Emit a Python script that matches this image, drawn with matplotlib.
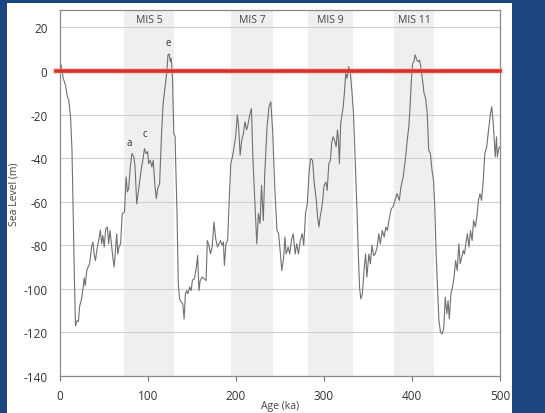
import matplotlib
matplotlib.use("Agg")
import matplotlib.pyplot as plt
from matplotlib.patches import Rectangle

# Sea level reconstruction, last 500 kyr
age = [
    0, 1.1, 3.7, 6.2, 8.4, 9.9, 12, 13.6,
    15, 16.5, 17.6, 19.4, 20.9, 22.3, 24.5, 26.4,
    27.5, 28.6, 30.4, 31.9, 33.7, 35.9, 37.4, 38.8,
    40.3, 42.1, 44, 45.8, 47.3, 48.7, 50.2, 52,
    53.8, 55.3, 56.8, 58.6, 60, 61.5, 63, 64.5,
    65.6, 67, 68.9, 70.7, 73.3, 75.1, 76.6, 78,
    79.9, 81.7, 83.9, 85.3, 87.2, 89.7, 92.7, 94.1,
    96, 97.8, 99.6, 100.7, 102.6, 104.4, 105.9, 108,
    109.5, 111, 113.2, 115.4, 117.2, 119.8, 121.2, 122.7,
    124.2, 125.3, 126.4, 127.8, 129.3, 130.8, 131.5, 133,
    134.4, 135.9, 137.7, 139.6, 141, 142.5, 144, 145.4,
    147.3, 149, 150.5, 152.7, 155, 156.4, 157.9, 159.3,
    161.5, 163.7, 166, 167.4, 169.2, 171, 172.9, 175,
    176.9, 179, 180.6, 182.4, 184.2, 185.7, 186.8, 188.6,
    190.5, 192.3, 194.1, 196, 197.8, 199.6, 201.5, 203,
    204.7, 206.5, 208.4, 210.2, 212, 213.5, 215.6, 217.5,
    219.3, 221, 223.6, 225.5, 227.3, 229, 231, 232.7,
    235.3, 237.5, 239.6, 241.8, 244, 246.5, 248.4, 250.5,
    252, 254.2, 255.6, 257, 259.3, 261, 263, 265,
    267.3, 269, 271, 273, 275.3, 277, 279, 281,
    283, 284.7, 287, 289, 291.3, 292.7, 294.2, 295.6,
    297, 298.5, 300, 302.2, 303.6, 305.5, 307.3, 308.7,
    310.2, 312, 313.8, 315.3, 316.4, 317.5, 319, 320.4,
    321.8, 323.3, 324.7, 326.2, 328, 329.8, 331.6, 333.5,
    335, 336.4, 337.5, 339, 340.4, 341.8, 343.6, 345.8,
    347.3, 348.7, 351, 352.7, 354.5, 356.4, 358.2, 360.4,
    362.2, 364, 366.2, 368.4, 370.2, 372, 373.8, 376.4,
    378.4, 380.7, 383, 385.6, 387.4, 390, 391.4, 392.8,
    394.6, 396.4, 397.8, 399.3, 400.7, 402.2, 403.6, 405.4,
    407.2, 408.6, 410, 411.9, 413.7, 415.5, 417.3, 419,
    420.9, 422.7, 424.5, 425.9, 427.3, 428.8, 430.6, 432.4,
    434.2, 436, 437.8, 439.6, 441, 442.4, 444.2, 446,
    447.8, 449.6, 451.4, 453.2, 454.7, 456.5, 458.3, 459.7,
    461.2, 463, 464.7, 466.5, 468.3, 470, 472, 473.7,
    475.5, 477.3, 479, 481, 482.7, 484.9, 487, 489.2,
    490.6, 492, 493.5, 494.6, 496, 497, 498.6, 500,
]
sea_level = [
    2, 2.8, -3.4, -6.4, -11.8, -13.3, -21, -36,
    -67, -98, -117, -114.6, -115, -108, -104.6, -99,
    -95, -98.5, -91.6, -90, -88.5, -80.8, -78.5, -84,
    -87, -81.6, -77.8, -73, -79.3, -75.5, -80.8, -72.4,
    -71.6, -79.3, -73.2, -80, -85.4, -90, -82.4, -74.7,
    -84, -80.8, -79.3, -65.5, -64.7, -48.6, -55.5, -54,
    -44, -37.9, -39.4, -44, -61, -53.2, -44, -41,
    -35.6, -37.9, -37, -42.5, -41, -44, -41, -53.2,
    -58.6, -54, -51.7, -28.7, -14.9, -5.7, -1, 7.4,
    7.8, 4.3, 5.8, -2.6, -28.7, -30, -42.5, -65.5,
    -97.7, -104.6, -106, -107, -113.8, -102.3, -100.8, -102.3,
    -99.2, -100.8, -96, -95.4, -90, -84.7, -100.8, -96.2,
    -94.6, -95.4, -96.2, -77.8, -80, -83.9, -80.8, -69.3,
    -77, -80.8, -79.3, -77.8, -80, -78.5, -89.3, -79.3,
    -77.8, -59.4, -42.5, -39.4, -34.8, -30.2, -20.2, -25.6,
    -38.7, -31.7, -28.7, -23.3, -27, -24.8, -20.2, -17.2,
    -41, -56.3, -79.3, -65.5, -70, -52.5, -68.6, -47,
    -25.6, -16.4, -14.1, -28.7, -53.2, -73, -74.7, -84,
    -91.6, -85.4, -76.2, -84, -80.8, -84, -77.8, -74.7,
    -84, -79.3, -84, -77.8, -74.7, -80, -65.5, -61,
    -47, -40.2, -41, -51.7, -59.4, -67, -71.6, -67,
    -64, -59.4, -52.5, -51, -54.8, -42.5, -41, -33.3,
    -30.2, -31.7, -34.8, -27, -31.7, -42.5, -24, -20.2,
    -16.4, -9.5, -1, -3.4, 2, -0.3, -8.7, -19.5,
    -36.3, -53.2, -64, -84, -99.2, -104.6, -102.3, -90,
    -84, -94.6, -84, -88.5, -80, -84.7, -84, -80.8,
    -74.7, -79.3, -73.2, -76.2, -71.6, -73.2, -68.6, -63.2,
    -62.4, -59.4, -56.3, -59.4, -53.2, -48.6, -44, -39.4,
    -31.7, -25.6, -16.4, -4.1, 3.5, 4.3, 7.4, 5,
    4.3, 5, 2, -4.1, -10.3, -12.6, -19.5, -36.3,
    -37.9, -45.5, -50.2, -62.4, -82.4, -97.7, -114.6, -120,
    -120.7, -118.4, -103.8, -111.5, -105.4, -113.8, -102.3, -99.2,
    -94.6, -87, -91.6, -79.3, -88.5, -85.4, -82.4, -84,
    -79.3, -74.7, -80.8, -73.2, -77.8, -68.6, -71.6, -67,
    -59.4, -56.3, -59.4, -50.2, -37.9, -34.8, -27, -19.5,
    -16.4, -22.5, -31.7, -39.4, -30.2, -39.4, -35.6, -34.8,
]

# interglacial stages (ka)
mis_labels = ["MIS 5", "MIS 7", "MIS 9", "MIS 11"]
mis_start = [73, 194, 282, 380]
mis_end = [130, 242, 333, 425]

# substage peaks
peak_labels = ["a", "c", "e"]
peak_age = [79, 96, 123.5]
peak_level = [-33, -28.5, 13]

plt.rcParams["font.family"] = ["Open Sans", "DejaVu Sans"]
plt.rcParams["axes.unicode_minus"] = False

W, H = 545, 414
fig = plt.figure(figsize=(W / 100, H / 100), dpi=100, facecolor="#1c4680")
fig.patches.append(Rectangle((7 / W, 0), 505 / W, 410 / H, transform=fig.transFigure,
                             facecolor="white", edgecolor="none", zorder=-10))

ax = fig.add_axes([60 / W, 37 / H, 440 / W, 366 / H])
ax.set_xlim(0, 500)
ax.set_ylim(-140, 28)

for s, e in zip(mis_start, mis_end):
    ax.axvspan(s, e, color="#efefef", lw=0, zorder=0.2)
for s, e, lab in zip(mis_start, mis_end, mis_labels):
    ax.text((s + e) / 2, 23.5, lab, ha="center", va="center", fontsize=7.5, color="#444444")

ax.set_axisbelow(True)
ax.yaxis.grid(True, color="#cfcfcf", lw=0.8)

ax.plot(age, sea_level, color="#707070", lw=0.8, zorder=3)

# present-day sea level
ax.axhline(0, xmin=-0.008, xmax=1, color="#f2a3a3", lw=4.5, alpha=0.45, zorder=4, clip_on=False)
ax.axhline(0, xmin=-0.008, xmax=1, color="#d9302c", lw=2.6, zorder=5, clip_on=False)

for lab, x, y in zip(peak_labels, peak_age, peak_level):
    ax.text(x, y, lab, ha="center", va="center", fontsize=7, color="#333333")

ax.set_xticks(range(0, 501, 100))
ax.set_yticks(range(-140, 21, 20))
ax.tick_params(axis="x", direction="out", length=3.5, width=0.8, color="#777777",
               labelsize=8.5, labelcolor="#333333", pad=6)
ax.tick_params(axis="y", length=0, labelsize=8.5, labelcolor="#333333", pad=9)
for sp in ax.spines.values():
    sp.set_color("#8a8a8a")
    sp.set_linewidth(0.9)

ax.set_xlabel("Age (ka)", fontsize=7.5, color="#444444")
ax.set_ylabel("Sea Level (m)", fontsize=7.5, color="#444444")
ax.xaxis.set_label_coords(0.5, -0.066)
ax.yaxis.set_label_coords(-40 / 440, 0.5)

fig.savefig("out.png", dpi=100, facecolor=fig.get_facecolor())
